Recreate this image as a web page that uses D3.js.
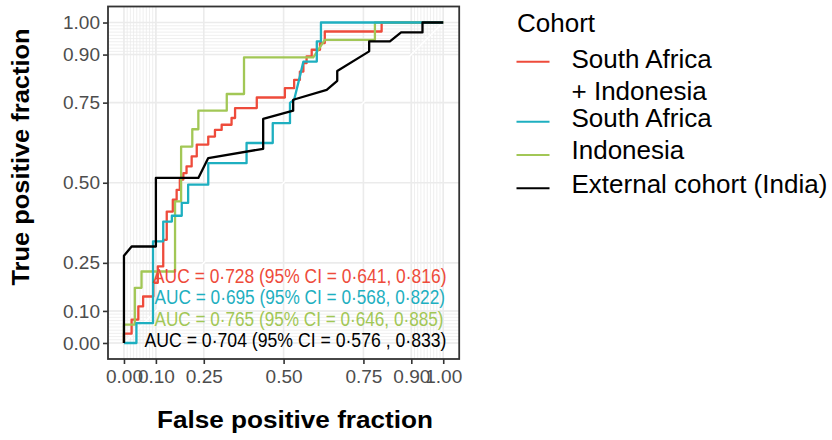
<!DOCTYPE html>
<html>
<head>
<meta charset="utf-8">
<script src="https://cdn.jsdelivr.net/npm/d3@7"></script>
<style>
  body { margin: 0; background: #fff; }
  svg { display: block; }
  text { font-family: "Liberation Sans", Arial, Helvetica, sans-serif; }
</style>
</head>
<body>
<svg id="chart" width="832" height="440"></svg>
<script>
// ---------------- data ----------------
const majorBreaks = [0, 0.1, 0.25, 0.5, 0.75, 0.9, 1];
const tickLabels  = ["0.00", "0.10", "0.25", "0.50", "0.75", "0.90", "1.00"];
const minorBreaks = [0, 0.01, 0.02, 0.03, 0.04, 0.05, 0.06, 0.07, 0.08, 0.09, 0.1,
                     0.9, 0.91, 0.92, 0.93, 0.94, 0.95, 0.96, 0.97, 0.98, 0.99, 1];

const cohorts = ["South Africa + Indonesia", "South Africa", "Indonesia", "External cohort (India)"];
const legendLabels = [["South Africa", "+ Indonesia"], ["South Africa"], ["Indonesia"], ["External cohort (India)"]];
const cohortColors = ["#EE4B3B", "#1EAFC0", "#A2C756", "#000000"];

// ROC vertices [false positive fraction, true positive fraction]
const rocSAIndonesia = [[0,0],[0,0.029],[0.024,0.029],[0.024,0.073],[0.045,0.073],[0.045,0.114],[0.060,0.114],[0.060,0.145],
  [0.092,0.145],[0.092,0.188],[0.106,0.188],[0.106,0.239],[0.123,0.239],[0.123,0.322],[0.134,0.322],[0.134,0.410],
  [0.153,0.410],[0.153,0.447],[0.165,0.447],[0.165,0.478],[0.175,0.478],[0.175,0.510],[0.186,0.510],[0.186,0.530],
  [0.196,0.530],[0.196,0.551],[0.212,0.551],[0.212,0.582],[0.228,0.582],[0.228,0.619],[0.264,0.619],[0.264,0.644],
  [0.285,0.644],[0.285,0.665],[0.306,0.665],[0.306,0.681],[0.337,0.681],[0.337,0.702],[0.348,0.702],[0.348,0.733],
  [0.416,0.733],[0.416,0.766],[0.504,0.766],[0.504,0.795],[0.533,0.795],[0.533,0.821],[0.551,0.821],[0.551,0.847],
  [0.562,0.847],[0.562,0.873],[0.572,0.873],[0.572,0.894],[0.588,0.894],[0.588,0.915],[0.614,0.915],[0.614,0.936],
  [0.629,0.936],[0.629,0.972],[0.807,0.972],[0.807,1],[1,1]];
const rocSouthAfrica = [[0,0],[0.039,0],[0.039,0.062],[0.091,0.062],[0.091,0.317],[0.123,0.317],[0.123,0.379],[0.150,0.379],
  [0.150,0.397],[0.181,0.397],[0.181,0.437],[0.201,0.437],[0.201,0.494],[0.264,0.494],[0.264,0.561],[0.384,0.561],
  [0.384,0.624],[0.466,0.624],[0.466,0.686],[0.520,0.686],[0.520,0.749],[0.533,0.759],[0.551,0.832],[0.562,0.878],
  [0.604,0.878],[0.604,0.941],[0.617,0.941],[0.617,1],[1,1]];
const rocIndonesia = [[0,0],[0,0.057],[0.034,0.057],[0.034,0.172],[0.055,0.172],[0.055,0.223],[0.160,0.223],[0.160,0.442],
  [0.179,0.442],[0.179,0.613],[0.214,0.613],[0.214,0.667],[0.233,0.667],[0.233,0.725],[0.322,0.725],[0.322,0.777],
  [0.376,0.777],[0.376,0.891],[0.593,0.891],[0.629,0.946],[0.786,0.946],[0.786,1],[1,1]];
const rocIndia = [[0,0],[0,0.272],[0.024,0.301],[0.100,0.301],[0.100,0.515],[0.233,0.515],[0.264,0.577],[0.436,0.606],
  [0.436,0.699],[0.530,0.725],[0.530,0.759],[0.635,0.790],[0.668,0.818],[0.668,0.849],[0.768,0.910],[0.768,0.941],
  [0.833,0.941],[0.868,0.969],[0.935,0.969],[0.935,1],[1,1]];

const aucLabels = [
  "AUC = 0·728 (95% CI = 0·641, 0·816)",
  "AUC = 0·695 (95% CI = 0·568, 0·822)",
  "AUC = 0·765 (95% CI = 0·646, 0·885)",
  "AUC = 0·704 (95% CI =  0·576 , 0·833)"
];

// ---------------- chart ----------------
const svg = d3.select("#chart");
const panel = { left: 108, right: 459.2, top: 6.5, bottom: 359 };

const x = d3.scaleLinear().domain([-0.05, 1.05]).range([panel.left, panel.right]);
const y = d3.scaleLinear().domain([-0.05, 1.05]).range([panel.bottom, panel.top]);

// grid
const grid = svg.append("g");
grid.selectAll("line.vmin").data(minorBreaks).join("line")
  .attr("x1", d => x(d)).attr("x2", d => x(d)).attr("y1", panel.top).attr("y2", panel.bottom)
  .attr("stroke", "#EBEBEB").attr("stroke-width", 0.8);
grid.selectAll("line.hmin").data(minorBreaks).join("line")
  .attr("y1", d => y(d)).attr("y2", d => y(d)).attr("x1", panel.left).attr("x2", panel.right)
  .attr("stroke", "#EBEBEB").attr("stroke-width", 0.8);
grid.selectAll("line.vmaj").data(majorBreaks).join("line")
  .attr("x1", d => x(d)).attr("x2", d => x(d)).attr("y1", panel.top).attr("y2", panel.bottom)
  .attr("stroke", "#EBEBEB").attr("stroke-width", 1.6);
grid.selectAll("line.hmaj").data(majorBreaks).join("line")
  .attr("y1", d => y(d)).attr("y2", d => y(d)).attr("x1", panel.left).attr("x2", panel.right)
  .attr("stroke", "#EBEBEB").attr("stroke-width", 1.6);

// reference diagonal
svg.append("line")
  .attr("x1", x(0)).attr("y1", y(0)).attr("x2", x(1)).attr("y2", y(1))
  .attr("stroke", "#FFFFFF").attr("stroke-width", 1.6);

// curves
const line = d3.line().x(d => x(d[0])).y(d => y(d[1]));
const series = [
  { data: rocSAIndonesia, color: cohortColors[0] },
  { data: rocIndonesia,   color: cohortColors[2] },
  { data: rocSouthAfrica, color: cohortColors[1] },
  { data: rocIndia,       color: cohortColors[3] }
];
svg.append("g").selectAll("path").data(series).join("path")
  .attr("d", d => line(d.data))
  .attr("fill", "none")
  .attr("stroke", d => d.color)
  .attr("stroke-width", 2.3)
  .attr("stroke-linejoin", "round");

// AUC annotations
const aucPos = [
  { x: 153, y: 282.5, w: 293.5 },
  { x: 154.5, y: 303.5, w: 290.5 },
  { x: 154.5, y: 325.5, w: 289 },
  { x: 144.5, y: 346.5, w: 302 }
];
svg.append("g").selectAll("text").data(aucLabels).join("text")
  .attr("x", (d, i) => aucPos[i].x)
  .attr("y", (d, i) => aucPos[i].y)
  .attr("textLength", (d, i) => aucPos[i].w)
  .attr("lengthAdjust", "spacingAndGlyphs")
  .attr("font-size", 20.5)
  .attr("fill", (d, i) => cohortColors[i])
  .text(d => d);

// panel border
svg.append("rect")
  .attr("x", panel.left).attr("y", panel.top)
  .attr("width", panel.right - panel.left).attr("height", panel.bottom - panel.top)
  .attr("fill", "none").attr("stroke", "#333333").attr("stroke-width", 1.8);

// axes
const fmt = (d) => tickLabels[majorBreaks.indexOf(d)];
const xAxis = svg.append("g").attr("transform", `translate(0,${panel.bottom})`)
  .call(d3.axisBottom(x).tickValues(majorBreaks).tickFormat(fmt).tickSize(5).tickPadding(6));
const yAxis = svg.append("g").attr("transform", `translate(${panel.left},0)`)
  .call(d3.axisLeft(y).tickValues(majorBreaks).tickFormat(fmt).tickSize(5).tickPadding(3));
[xAxis, yAxis].forEach(g => {
  g.select(".domain").remove();
  g.selectAll(".tick line").attr("stroke", "#333333").attr("stroke-width", 1.6);
  g.selectAll(".tick text").attr("fill", "#4D4D4D").attr("font-size", 19)
    .attr("font-family", "'Liberation Sans', Arial, sans-serif");
});

// axis titles
svg.append("text")
  .attr("x", 295).attr("y", 427.5)
  .attr("text-anchor", "middle")
  .attr("font-size", 23.5).attr("font-weight", "bold")
  .attr("textLength", 276).attr("lengthAdjust", "spacingAndGlyphs")
  .text("False positive fraction");
svg.append("text")
  .attr("transform", "translate(28.5,157) rotate(-90)")
  .attr("text-anchor", "middle")
  .attr("font-size", 23.5).attr("font-weight", "bold")
  .attr("textLength", 257).attr("lengthAdjust", "spacingAndGlyphs")
  .text("True positive fraction");

// legend
const legend = svg.append("g");
legend.append("text").attr("x", 517).attr("y", 31.5).attr("font-size", 26).text("Cohort");
const keyY = [61.7, 121.7, 155, 188.3];
const textY = [[67.5, 100], [127.3], [159.3], [193.3]];
cohorts.forEach((c, i) => {
  legend.append("line")
    .attr("x1", 516.5).attr("x2", 549.5).attr("y1", keyY[i]).attr("y2", keyY[i])
    .attr("stroke", cohortColors[i]).attr("stroke-width", 2);
  legendLabels[i].forEach((t, j) => {
    legend.append("text").attr("x", 571.5).attr("y", textY[i][j]).attr("font-size", 26).text(t);
  });
});
</script>
</body>
</html>
